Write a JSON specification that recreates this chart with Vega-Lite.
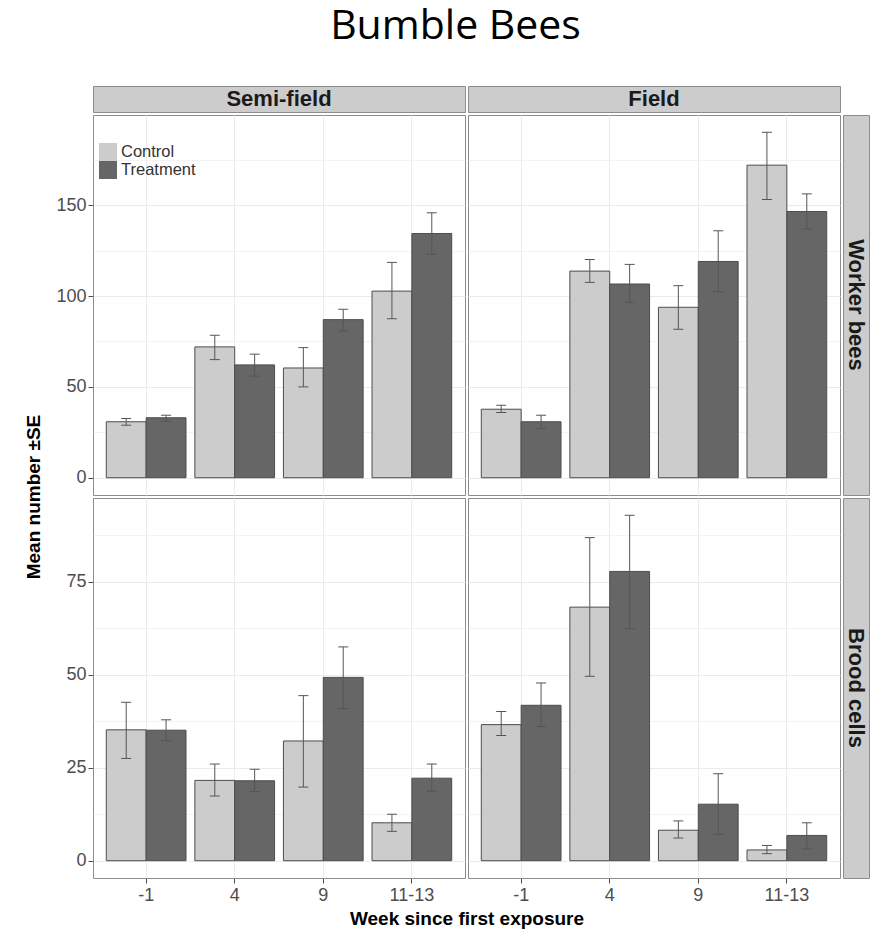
{
  "$schema": "https://vega.github.io/schema/vega-lite/v6.json",
  "background": "white",
  "padding": {"left": 23, "top": 5, "right": 5, "bottom": 3},
  "title": {"text": "Bumble Bees", "font": "Open Sans", "fontSize": 41, "fontWeight": "normal", "color": "#000000", "anchor": "middle", "offset": 38, "dx": 9},
  "datasets": {
    "bees": [
      {"site": "Semi-field", "response": "Worker bees", "week": "-1", "group": "Control", "mean": 30.8, "lo": 28.9, "hi": 32.6},
      {"site": "Semi-field", "response": "Worker bees", "week": "-1", "group": "Treatment", "mean": 33.0, "lo": 31.1, "hi": 34.4},
      {"site": "Semi-field", "response": "Worker bees", "week": "4", "group": "Control", "mean": 72.0, "lo": 65.0, "hi": 78.4},
      {"site": "Semi-field", "response": "Worker bees", "week": "4", "group": "Treatment", "mean": 62.1, "lo": 55.9, "hi": 68.0},
      {"site": "Semi-field", "response": "Worker bees", "week": "9", "group": "Control", "mean": 60.4, "lo": 50.0, "hi": 71.6},
      {"site": "Semi-field", "response": "Worker bees", "week": "9", "group": "Treatment", "mean": 87.0, "lo": 80.8, "hi": 92.7},
      {"site": "Semi-field", "response": "Worker bees", "week": "11-13", "group": "Control", "mean": 102.7, "lo": 87.5, "hi": 118.5},
      {"site": "Semi-field", "response": "Worker bees", "week": "11-13", "group": "Treatment", "mean": 134.4, "lo": 122.9, "hi": 145.8},
      {"site": "Field", "response": "Worker bees", "week": "-1", "group": "Control", "mean": 37.7, "lo": 35.9, "hi": 39.9},
      {"site": "Field", "response": "Worker bees", "week": "-1", "group": "Treatment", "mean": 30.8, "lo": 27.1, "hi": 34.4},
      {"site": "Field", "response": "Worker bees", "week": "4", "group": "Control", "mean": 113.7, "lo": 107.5, "hi": 120.1},
      {"site": "Field", "response": "Worker bees", "week": "4", "group": "Treatment", "mean": 106.6, "lo": 96.5, "hi": 117.4},
      {"site": "Field", "response": "Worker bees", "week": "9", "group": "Control", "mean": 93.8, "lo": 81.7, "hi": 105.7},
      {"site": "Field", "response": "Worker bees", "week": "9", "group": "Treatment", "mean": 119.0, "lo": 102.4, "hi": 135.9},
      {"site": "Field", "response": "Worker bees", "week": "11-13", "group": "Control", "mean": 172.0, "lo": 153.1, "hi": 190.1},
      {"site": "Field", "response": "Worker bees", "week": "11-13", "group": "Treatment", "mean": 146.5, "lo": 136.8, "hi": 156.2},
      {"site": "Semi-field", "response": "Brood cells", "week": "-1", "group": "Control", "mean": 35.2, "lo": 27.5, "hi": 42.6},
      {"site": "Semi-field", "response": "Brood cells", "week": "-1", "group": "Treatment", "mean": 35.1, "lo": 32.3, "hi": 37.9},
      {"site": "Semi-field", "response": "Brood cells", "week": "4", "group": "Control", "mean": 21.6, "lo": 17.4, "hi": 26.0},
      {"site": "Semi-field", "response": "Brood cells", "week": "4", "group": "Treatment", "mean": 21.5, "lo": 18.6, "hi": 24.6},
      {"site": "Semi-field", "response": "Brood cells", "week": "9", "group": "Control", "mean": 32.2, "lo": 19.8, "hi": 44.4},
      {"site": "Semi-field", "response": "Brood cells", "week": "9", "group": "Treatment", "mean": 49.3, "lo": 40.9, "hi": 57.5},
      {"site": "Semi-field", "response": "Brood cells", "week": "11-13", "group": "Control", "mean": 10.2, "lo": 7.9, "hi": 12.5},
      {"site": "Semi-field", "response": "Brood cells", "week": "11-13", "group": "Treatment", "mean": 22.2, "lo": 18.7, "hi": 26.0},
      {"site": "Field", "response": "Brood cells", "week": "-1", "group": "Control", "mean": 36.6, "lo": 33.7, "hi": 40.1},
      {"site": "Field", "response": "Brood cells", "week": "-1", "group": "Treatment", "mean": 41.8, "lo": 36.1, "hi": 47.8},
      {"site": "Field", "response": "Brood cells", "week": "4", "group": "Control", "mean": 68.2, "lo": 49.6, "hi": 86.9},
      {"site": "Field", "response": "Brood cells", "week": "4", "group": "Treatment", "mean": 77.8, "lo": 62.4, "hi": 92.9},
      {"site": "Field", "response": "Brood cells", "week": "9", "group": "Control", "mean": 8.2, "lo": 6.1, "hi": 10.7},
      {"site": "Field", "response": "Brood cells", "week": "9", "group": "Treatment", "mean": 15.2, "lo": 7.1, "hi": 23.4},
      {"site": "Field", "response": "Brood cells", "week": "11-13", "group": "Control", "mean": 2.9, "lo": 1.9, "hi": 4.1},
      {"site": "Field", "response": "Brood cells", "week": "11-13", "group": "Treatment", "mean": 6.8, "lo": 3.2, "hi": 10.2}
    ],
    "strips": [
      {"label": "Semi-field"}, {"label": "Field"}, {"label": ""}, {"label": "Worker bees"}, {"label": "Brood cells"}
    ]
  },
  "columns": 3,
  "bounds": "flush",
  "align": "each",
  "spacing": 3,
  "concat": [
    {"width": 372, "height": 26, "data": {"name": "strips"}, "transform": [{"filter": "datum.label === 'Semi-field'"}],
     "view": {"fill": "#cccccc", "stroke": "#8c8c8c"},
     "mark": {"type": "text", "fontSize": 22, "fontWeight": "bold", "color": "#1a1a1a", "baseline": "middle", "align": "center"},
     "encoding": {"text": {"field": "label"}}},
    {"width": 372, "height": 26, "data": {"name": "strips"}, "transform": [{"filter": "datum.label === 'Field'"}],
     "view": {"fill": "#cccccc", "stroke": "#8c8c8c"},
     "mark": {"type": "text", "fontSize": 22, "fontWeight": "bold", "color": "#1a1a1a", "baseline": "middle", "align": "center"},
     "encoding": {"text": {"field": "label"}}},
    {"width": 26, "height": 26, "data": {"name": "strips"}, "transform": [{"filter": "datum.label === ''"}],
     "view": {"fill": null, "stroke": null},
     "mark": {"type": "text", "fontSize": 10},
     "encoding": {"text": {"field": "label"}}},
    {
      "width": 372, "height": 380,
      "data": {"name": "bees"},
      "transform": [{"filter": "datum.site === 'Semi-field' && datum.response === 'Worker bees'"}],
      "encoding": {
        "x": {"field": "week", "type": "nominal", "sort": ["-1", "4", "9", "11-13"], "scale": {"paddingInner": 0.1, "paddingOuter": 0.15},
              "axis": {"labels": false, "ticks": false, "title": null, "grid": true, "bandPosition": 0.5}},
        "xOffset": {"field": "group", "type": "nominal", "sort": ["Control", "Treatment"], "scale": {"paddingInner": 0, "paddingOuter": 0}}
      },
      "layer": [
        {"mark": {"type": "bar", "stroke": "#4d4d4d", "strokeWidth": 1},
         "encoding": {
           "y": {"field": "mean", "type": "quantitative", "scale": {"domain": [-9.5, 199.6], "nice": false, "zero": false},
                 "axis": {"values": [0, 25, 50, 75, 100, 125, 150, 175], "labelExpr": "datum.value % 50 === 0 ? datum.label : ''",
                          "tickOpacity": {"condition": {"test": "datum.value % 50 !== 0", "value": 0}, "value": 1},
                          "gridWidth": {"condition": {"test": "datum.value % 50 !== 0", "value": 0.6}, "value": 1},
                          "title": "Mean number ±SE", "titleX": -50, "titleY": 381.5}},
           "y2": {"datum": 0},
           "color": {"field": "group", "type": "nominal", "scale": {"domain": ["Control", "Treatment"], "range": ["#cccccc", "#666666"]},
                     "legend": {"orient": "none", "legendX": 6, "legendY": 57, "title": null}}
         }},
        {"mark": {"type": "rule", "color": "#555555", "strokeWidth": 1}, "encoding": {"y": {"field": "lo", "type": "quantitative"}, "y2": {"field": "hi"}}},
        {"mark": {"type": "tick", "orient": "horizontal", "size": 10, "thickness": 1, "color": "#555555", "opacity": 1}, "encoding": {"y": {"field": "lo", "type": "quantitative"}}},
        {"mark": {"type": "tick", "orient": "horizontal", "size": 10, "thickness": 1, "color": "#555555", "opacity": 1}, "encoding": {"y": {"field": "hi", "type": "quantitative"}}}
      ]
    },
    {
      "width": 372, "height": 380,
      "data": {"name": "bees"},
      "transform": [{"filter": "datum.site === 'Field' && datum.response === 'Worker bees'"}],
      "encoding": {
        "x": {"field": "week", "type": "nominal", "sort": ["-1", "4", "9", "11-13"], "scale": {"paddingInner": 0.1, "paddingOuter": 0.15},
              "axis": {"labels": false, "ticks": false, "title": null, "grid": true, "bandPosition": 0.5}},
        "xOffset": {"field": "group", "type": "nominal", "sort": ["Control", "Treatment"], "scale": {"paddingInner": 0, "paddingOuter": 0}}
      },
      "layer": [
        {"mark": {"type": "bar", "stroke": "#4d4d4d", "strokeWidth": 1},
         "encoding": {
           "y": {"field": "mean", "type": "quantitative", "scale": {"domain": [-9.5, 199.6], "nice": false, "zero": false},
                 "axis": {"values": [0, 25, 50, 75, 100, 125, 150, 175], "labels": false, "ticks": false, "title": null,
                          "gridWidth": {"condition": {"test": "datum.value % 50 !== 0", "value": 0.6}, "value": 1}}},
           "y2": {"datum": 0},
           "color": {"field": "group", "type": "nominal", "scale": {"domain": ["Control", "Treatment"], "range": ["#cccccc", "#666666"]},
                     "legend": {"orient": "none", "legendX": 6, "legendY": 57, "title": null}}
         }},
        {"mark": {"type": "rule", "color": "#555555", "strokeWidth": 1}, "encoding": {"y": {"field": "lo", "type": "quantitative"}, "y2": {"field": "hi"}}},
        {"mark": {"type": "tick", "orient": "horizontal", "size": 10, "thickness": 1, "color": "#555555", "opacity": 1}, "encoding": {"y": {"field": "lo", "type": "quantitative"}}},
        {"mark": {"type": "tick", "orient": "horizontal", "size": 10, "thickness": 1, "color": "#555555", "opacity": 1}, "encoding": {"y": {"field": "hi", "type": "quantitative"}}}
      ]
    },
    {"width": 26, "height": 380, "data": {"name": "strips"}, "transform": [{"filter": "datum.label === 'Worker bees'"}],
     "view": {"fill": "#cccccc", "stroke": "#8c8c8c"},
     "mark": {"type": "text", "fontSize": 22, "fontWeight": "bold", "color": "#1a1a1a", "angle": 90, "baseline": "middle", "align": "center"},
     "encoding": {"text": {"field": "label"}}},
    {
      "width": 372, "height": 380,
      "data": {"name": "bees"},
      "transform": [{"filter": "datum.site === 'Semi-field' && datum.response === 'Brood cells'"}],
      "encoding": {
        "x": {"field": "week", "type": "nominal", "sort": ["-1", "4", "9", "11-13"], "scale": {"paddingInner": 0.1, "paddingOuter": 0.15},
              "axis": {"grid": true, "bandPosition": 0.5, "labelAngle": 0, "tickSize": 5, "labelPadding": 3,
                       "title": "Week since first exposure", "titleX": 373.5, "titlePadding": 5}},
        "xOffset": {"field": "group", "type": "nominal", "sort": ["Control", "Treatment"], "scale": {"paddingInner": 0, "paddingOuter": 0}}
      },
      "layer": [
        {"mark": {"type": "bar", "stroke": "#4d4d4d", "strokeWidth": 1},
         "encoding": {
           "y": {"field": "mean", "type": "quantitative", "scale": {"domain": [-4.65, 97.55], "nice": false, "zero": false},
                 "axis": {"values": [0, 12.5, 25, 37.5, 50, 62.5, 75, 87.5], "labelExpr": "datum.value % 25 === 0 ? datum.label : ''",
                          "tickOpacity": {"condition": {"test": "datum.value % 25 !== 0", "value": 0}, "value": 1},
                          "gridWidth": {"condition": {"test": "datum.value % 25 !== 0", "value": 0.6}, "value": 1},
                          "title": null}},
           "y2": {"datum": 0},
           "color": {"field": "group", "type": "nominal", "scale": {"domain": ["Control", "Treatment"], "range": ["#cccccc", "#666666"]},
                     "legend": {"orient": "none", "legendX": 6, "legendY": 57, "title": null}}
         }},
        {"mark": {"type": "rule", "color": "#555555", "strokeWidth": 1}, "encoding": {"y": {"field": "lo", "type": "quantitative"}, "y2": {"field": "hi"}}},
        {"mark": {"type": "tick", "orient": "horizontal", "size": 10, "thickness": 1, "color": "#555555", "opacity": 1}, "encoding": {"y": {"field": "lo", "type": "quantitative"}}},
        {"mark": {"type": "tick", "orient": "horizontal", "size": 10, "thickness": 1, "color": "#555555", "opacity": 1}, "encoding": {"y": {"field": "hi", "type": "quantitative"}}}
      ]
    },
    {
      "width": 372, "height": 380,
      "data": {"name": "bees"},
      "transform": [{"filter": "datum.site === 'Field' && datum.response === 'Brood cells'"}],
      "encoding": {
        "x": {"field": "week", "type": "nominal", "sort": ["-1", "4", "9", "11-13"], "scale": {"paddingInner": 0.1, "paddingOuter": 0.15},
              "axis": {"grid": true, "bandPosition": 0.5, "labelAngle": 0, "tickSize": 5, "labelPadding": 3, "title": null}},
        "xOffset": {"field": "group", "type": "nominal", "sort": ["Control", "Treatment"], "scale": {"paddingInner": 0, "paddingOuter": 0}}
      },
      "layer": [
        {"mark": {"type": "bar", "stroke": "#4d4d4d", "strokeWidth": 1},
         "encoding": {
           "y": {"field": "mean", "type": "quantitative", "scale": {"domain": [-4.65, 97.55], "nice": false, "zero": false},
                 "axis": {"values": [0, 12.5, 25, 37.5, 50, 62.5, 75, 87.5], "labels": false, "ticks": false, "title": null,
                          "gridWidth": {"condition": {"test": "datum.value % 25 !== 0", "value": 0.6}, "value": 1}}},
           "y2": {"datum": 0},
           "color": {"field": "group", "type": "nominal", "scale": {"domain": ["Control", "Treatment"], "range": ["#cccccc", "#666666"]},
                     "legend": {"orient": "none", "legendX": 6, "legendY": 57, "title": null}}
         }},
        {"mark": {"type": "rule", "color": "#555555", "strokeWidth": 1}, "encoding": {"y": {"field": "lo", "type": "quantitative"}, "y2": {"field": "hi"}}},
        {"mark": {"type": "tick", "orient": "horizontal", "size": 10, "thickness": 1, "color": "#555555", "opacity": 1}, "encoding": {"y": {"field": "lo", "type": "quantitative"}}},
        {"mark": {"type": "tick", "orient": "horizontal", "size": 10, "thickness": 1, "color": "#555555", "opacity": 1}, "encoding": {"y": {"field": "hi", "type": "quantitative"}}}
      ]
    },
    {"width": 26, "height": 380, "data": {"name": "strips"}, "transform": [{"filter": "datum.label === 'Brood cells'"}],
     "view": {"fill": "#cccccc", "stroke": "#8c8c8c"},
     "mark": {"type": "text", "fontSize": 22, "fontWeight": "bold", "color": "#1a1a1a", "angle": 90, "baseline": "middle", "align": "center"},
     "encoding": {"text": {"field": "label"}}}
  ],
  "config": {
    "font": "Liberation Sans",
    "view": {"stroke": "#8c8c8c", "strokeWidth": 1},
    "axis": {"domain": false, "labelFont": "Liberation Sans", "labelFontSize": 18, "labelColor": "#4d4d4d", "tickColor": "#4d4d4d", "tickSize": 5, "labelPadding": 2,
             "gridColor": "#ebebeb", "titleFont": "Liberation Sans", "titleFontSize": 19, "titleFontWeight": "bold", "titleColor": "#000000"},
    "legend": {"symbolType": "square", "symbolSize": 324, "symbolStrokeWidth": 0, "rowPadding": 0, "labelFontSize": 16.5, "labelColor": "#333333", "labelOffset": 4, "labelFont": "Liberation Sans", "symbolOpacity": 1}
  }
}
